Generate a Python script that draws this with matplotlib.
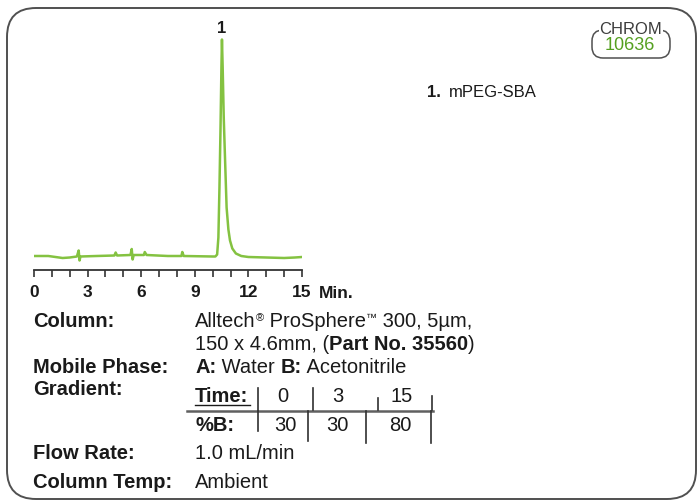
import matplotlib
matplotlib.use('Agg')
import matplotlib.pyplot as plt
from matplotlib.patches import FancyBboxPatch
from matplotlib import font_manager

W, H, DPI = 699, 502, 100

# Chromatogram trace (time in min, signal in arb. units)
TIME = [0.0, 0.8, 1.2, 1.6, 2.0, 2.4, 2.5, 2.55, 2.6, 3.5, 4.5, 4.57, 4.65,
        5.4, 5.47, 5.52, 5.58, 6.15, 6.2, 6.3, 7.5, 8.25, 8.3, 8.38, 10.0,
        10.15, 10.25, 10.32, 10.38, 10.44, 10.49, 10.52, 10.56, 10.62, 10.69,
        10.78, 10.88, 10.97, 11.1, 11.3, 11.6, 12.0, 13.0, 14.0, 14.6, 15.0]
SIGNAL = [2.5, 2.5, 1.5, 0.5, 1.0, 2.0, 8.0, -2.0, 2.0, 2.5, 3.0, 6.0, 3.0,
          3.5, 9.5, -1.0, 3.5, 3.5, 6.5, 3.5, 2.5, 2.5, 6.5, 2.5, 2.0,
          2.0, 4.0, 21.0, 71.0, 131.0, 191.0, 219.0, 191.0, 141.0, 101.0,
          51.0, 29.0, 18.0, 10.0, 5.0, 2.5, 1.5, 1.0, 0.5, 1.0, 1.5]

PEAK_NO = ['1']
PEAK_TIME = [10.52]
PEAK_NAME = ['mPEG-SBA']

TICKS = list(range(16))
TICK_LABELS = ['0', '', '', '3', '', '', '6', '', '', '9', '', '', '12', '', '', '15']

GRAD_TIME = ['0', '3', '15']
GRAD_B = ['30', '30', '80']

GREEN = '#84c241'
DARK = '#1a1a1a'
GRAY = '#505050'

names = {f.name for f in font_manager.fontManager.ttflist}
SANS = 'Liberation Sans' if 'Liberation Sans' in names else 'DejaVu Sans'
NARROW = 'Liberation Sans Narrow' if 'Liberation Sans Narrow' in names else SANS
plt.rcParams['font.family'] = [SANS, 'DejaVu Sans']

fig = plt.figure(figsize=(W / DPI, H / DPI), dpi=DPI)

# overlay in pixel coordinates (y downward)
ov = fig.add_axes([0, 0, 1, 1])
ov.set_xlim(0, W)
ov.set_ylim(H, 0)
ov.axis('off')

border = FancyBboxPatch((7, 9), 689, 491, boxstyle='round,pad=0,rounding_size=29',
                        fill=False, edgecolor=GRAY, linewidth=1.4)
ov.add_patch(border)

# CHROM badge
badge = FancyBboxPatch((592, 31), 78, 28, boxstyle='round,pad=0,rounding_size=11',
                       fill=False, edgecolor=GRAY, linewidth=1.1)
ov.add_patch(badge)
ov.text(631, 29, 'CHROM', ha='center', va='center', fontsize=12, color='#3c3c3c',
        family=NARROW, bbox=dict(facecolor='white', edgecolor='none', pad=0.3))
ov.text(630, 46, '10636', ha='center', va='center', fontsize=13, color='#55a020',
        fontweight='medium')

# chromatogram
ax = fig.add_axes([34 / W, (H - 271) / H, (302 - 34) / W, (271 - 30) / H])
ax.plot(TIME, SIGNAL, color=GREEN, linewidth=1.8, solid_joinstyle='round')
ax.set_xlim(0, 15)
ax.set_ylim(-11.5, 229.5)
for s in ['top', 'right', 'left']:
    ax.spines[s].set_visible(False)
ax.spines['bottom'].set_color('#333333')
ax.spines['bottom'].set_linewidth(1.3)
ax.set_yticks([])
ax.set_xticks(TICKS)
ax.set_xticklabels(TICK_LABELS, fontfamily=NARROW, fontweight='bold', fontsize=12.5,
                   color=DARK)
ax.tick_params(axis='x', direction='out', length=5, width=1.2, color='#333333', pad=5)
ax.patch.set_alpha(0)
for n, t in zip(PEAK_NO, PEAK_TIME):
    ax.text(t, 223, n, ha='center', va='bottom', fontsize=12, fontweight='bold',
            color=DARK)

ov.text(319, 298, 'Min.', ha='left', va='baseline', fontsize=12.5, fontweight='bold',
        family=NARROW, color=DARK)

# peak list
for i, (n, name) in enumerate(zip(PEAK_NO, PEAK_NAME)):
    ov.text(427, 97 + 22 * i, n + '.', ha='left', va='baseline', fontsize=12,
            fontweight='bold', color=DARK)
    ov.text(449, 97 + 22 * i, name, ha='left', va='baseline', fontsize=12, color=DARK)

renderer = fig.canvas.get_renderer()


def width_of(txt, **kw):
    t = ov.text(0, 0, txt + '|', **kw)
    b = ov.text(0, 0, '|', **kw)
    w = t.get_window_extent(renderer).width - b.get_window_extent(renderer).width
    t.remove()
    b.remove()
    return w


def runs(x, y, parts):
    """Draw consecutive text runs: (text, weight, size, raise_px)."""
    for txt, weight, size, dy in parts:
        kw = dict(fontsize=size, fontweight=weight, color=DARK)
        ov.text(x, y - dy, txt, ha='left', va='baseline', **kw)
        x += width_of(txt, **kw)
    return x


FS = 14.5
LX, VX = 33, 195
labels = [('Column:', 327), ('Mobile Phase:', 373), ('Gradient:', 395),
          ('Flow Rate:', 459), ('Column Temp:', 488)]
for txt, y in labels:
    ov.text(LX, y, txt, ha='left', va='baseline', fontsize=FS, fontweight='bold',
            color=DARK)

runs(VX, 327, [('Alltech', 'normal', FS, 0), ('®', 'normal', 8, 6),
               (' ProSphere', 'normal', FS, 0), ('™', 'normal', 8, 6),
               (' 300, 5µm,', 'normal', FS, 0)])
runs(VX, 350, [('150 x 4.6mm, (', 'normal', FS, 0), ('Part No. 35560', 'bold', FS, 0),
               (')', 'normal', FS, 0)])
runs(VX, 373, [('A:', 'bold', FS, 0), (' Water ', 'normal', FS, 0),
               ('B:', 'bold', FS, 0), (' Acetonitrile', 'normal', FS, 0)])
ov.text(VX, 459, '1.0 mL/min', ha='left', va='baseline', fontsize=FS, color=DARK)
ov.text(VX, 488, 'Ambient', ha='left', va='baseline', fontsize=FS, color=DARK)

# gradient table
ov.text(VX, 402, 'Time:', ha='left', va='baseline', fontsize=FS, fontweight='bold',
        color=DARK)
ov.text(VX, 431, '%B:', ha='left', va='baseline', fontsize=FS, fontweight='bold',
        color=DARK)
ov.plot([VX, VX + 55], [406, 406], color=DARK, linewidth=1.0)
ov.plot([187, 433], [411.5, 411.5], color='#606060', linewidth=1.8)
for xc, t in zip([283, 338, 402], GRAD_TIME):
    ov.text(xc, 402, t, ha='center', va='baseline', fontsize=FS, color=DARK)
for xc, b in zip([285, 337, 400], GRAD_B):
    ov.text(xc, 431, b, ha='center', va='baseline', fontsize=FS, color=DARK)
for xb, y0, y1 in [(258, 389, 411), (313, 389, 411), (378, 399, 411), (432, 397, 411),
                   (258, 412, 432), (308, 412, 442), (366, 412, 444), (431, 412, 444)]:
    ov.plot([xb, xb], [y0, y1], color='#303030', linewidth=1.2)

fig.savefig('out.png', dpi=DPI)
